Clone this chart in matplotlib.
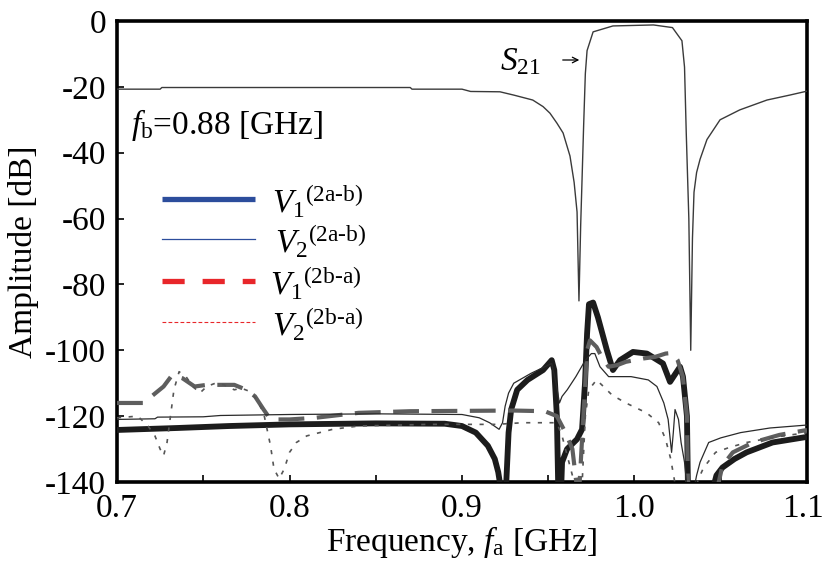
import matplotlib
matplotlib.use("Agg")
import matplotlib.pyplot as plt
from matplotlib.lines import Line2D
from matplotlib.ticker import MultipleLocator, FormatStrFormatter
from matplotlib.transforms import ScaledTranslation

plt.rcParams['font.family'] = ['Liberation Serif', 'DejaVu Serif']
plt.rcParams['mathtext.fontset'] = 'custom'
plt.rcParams['mathtext.rm'] = 'Liberation Serif'
plt.rcParams['mathtext.it'] = 'Liberation Serif:italic'
plt.rcParams['axes.unicode_minus'] = False

# ---- transmission S21 of the filter ----
s21_f = [0.700, 0.725, 0.726, 0.870, 0.871, 0.900, 0.905, 0.922, 0.930, 0.941,
         0.947, 0.951, 0.955, 0.9586, 0.9626, 0.965, 0.9667, 0.9678, 0.9688,
         0.9696, 0.9705, 0.9715, 0.9725, 0.976, 0.9875, 1.011, 1.022, 1.0275,
         1.029, 1.030, 1.0315, 1.0326, 1.0336, 1.0345, 1.036, 1.038, 1.042,
         1.0496, 1.061, 1.0768, 1.090, 1.100]
s21_db = [-20.7, -20.7, -20.2, -20.2, -20.7, -20.7, -21.4, -21.5, -22.5, -24.0,
          -26.0, -28.0, -31.0, -34.0, -41.0, -49.0, -58.0, -85.0, -62.0,
          -48.0, -32.0, -16.0, -9.0, -3.3, -1.5, -1.2, -2.0, -6.0,
          -14.0, -34.0, -60.0, -100.0, -66.0, -52.0, -46.0, -42.0, -36.0,
          -30.0, -27.0, -24.0, -22.5, -21.3]

# ---- V1 (2a-b) ----
v1ab_f = [0.700, 0.735, 0.765, 0.800, 0.850, 0.890, 0.900, 0.908, 0.915, 0.919,
          0.921, 0.9225, 0.9255, 0.927, 0.9285, 0.932, 0.938, 0.947, 0.952,
          0.9535, 0.955, 0.9558, 0.9575, 0.958, 0.9609, 0.9667, 0.9696, 0.9713,
          0.9725, 0.9736, 0.976, 0.9788, 0.984, 0.9875, 0.9916, 0.9991, 1.0072,
          1.0165, 1.0206, 1.0264, 1.0281, 1.0304, 1.031, 1.0455, 1.0475, 1.051,
          1.058, 1.065, 1.080, 1.100]
v1ab_db = [-124.2, -123.6, -123.0, -122.5, -122.2, -122.3, -123.0, -125.0, -129.0, -133.0,
           -137.0, -142.0, -142.0, -125.0, -118.0, -112.0, -109.0, -106.0, -103.0,
           -106.0, -120.0, -142.0, -142.0, -134.0, -130.0, -127.0, -124.0, -110.0,
           -95.0, -86.0, -85.5, -90.0, -100.0, -106.0, -103.0, -100.5, -101.0,
           -104.0, -109.6, -105.0, -108.0, -120.0, -142.0, -142.0, -138.0, -135.6,
           -133.0, -131.0, -128.0, -126.3]

# ---- V2 (2a-b) ----
v2ab_f = [0.700, 0.722, 0.7235, 0.750, 0.760, 0.800, 0.850, 0.900, 0.910, 0.916,
          0.9215, 0.9235, 0.925, 0.927, 0.930, 0.940, 0.952, 0.9545, 0.9565,
          0.958, 0.961, 0.966, 0.9715, 0.975, 0.977, 0.980, 0.985, 0.998,
          1.008, 1.013, 1.017, 1.0195, 1.0215, 1.0225, 1.0235, 1.0255, 1.027,
          1.029, 1.0305, 1.0345, 1.036, 1.038, 1.043, 1.050, 1.0615, 1.0785, 1.100]
v2ab_db = [-121.0, -120.8, -120.3, -120.2, -119.8, -119.5, -119.3, -119.5, -120.5, -122.0,
           -124.0, -122.0, -117.0, -113.0, -110.0, -107.0, -104.0, -110.0, -116.0,
           -114.0, -112.0, -108.0, -103.0, -101.0, -101.0, -105.0, -108.0, -108.0,
           -109.0, -111.0, -116.0, -121.0, -131.0, -125.0, -118.0, -121.0, -128.0,
           -134.0, -142.0, -142.0, -138.0, -134.0, -128.0, -126.6, -125.0, -123.6, -122.7]

# ---- V1 (2b-a) ----
v1ba_f = [0.700, 0.715, 0.720, 0.727, 0.732, 0.738, 0.745, 0.752, 0.760, 0.768,
          0.775, 0.780, 0.785, 0.789, 0.800, 0.815, 0.840, 0.870, 0.930, 0.948,
          0.955, 0.960, 0.964, 0.9667, 0.9680, 0.9696, 0.9713, 0.9725, 0.9742,
          0.978, 0.981, 0.985, 0.990, 0.995, 1.000, 1.005, 1.012, 1.018, 1.022,
          1.025, 1.028, 1.0304, 1.031, 1.048, 1.051, 1.057, 1.0687, 1.084, 1.100]
v1ba_db = [-116.0, -116.0, -114.0, -111.0, -107.5, -108.5, -111.0, -110.5, -110.5, -110.5,
           -112.0, -114.0, -118.0, -121.0, -121.0, -120.5, -119.0, -118.5, -118.3, -118.5,
           -120.0, -125.0, -130.0, -142.0, -142.0, -127.0, -112.0, -100.0, -97.0,
           -99.0, -102.0, -105.0, -104.5, -103.5, -103.0, -102.5, -102.0, -101.0, -100.8,
           -103.0, -108.0, -120.0, -142.0, -142.0, -135.0, -131.0, -128.0, -125.7, -124.2]

# ---- V2 (2b-a) ----
v2ba_f = [0.700, 0.712, 0.718, 0.722, 0.725, 0.727, 0.729, 0.731, 0.733, 0.736,
          0.740, 0.744, 0.748, 0.752, 0.757, 0.762, 0.768, 0.772, 0.777, 0.781,
          0.785, 0.787, 0.789, 0.791, 0.794, 0.797, 0.800, 0.804, 0.810, 0.825,
          0.840, 0.880, 0.920, 0.935, 0.955, 0.958, 0.962, 0.966, 0.9695, 0.9715,
          0.9735, 0.978, 0.982, 0.987, 0.995, 1.001, 1.007, 1.014, 1.018, 1.021,
          1.024, 1.035, 1.038, 1.040, 1.047, 1.055, 1.065, 1.080, 1.100]
v2ba_db = [-120.5, -120.0, -123.0, -126.0, -130.0, -132.0, -128.0, -120.0, -112.0, -106.5,
           -108.0, -111.0, -113.0, -111.0, -110.0, -110.5, -112.0, -111.5, -112.5, -115.0,
           -119.0, -124.0, -129.0, -136.0, -139.0, -136.0, -131.0, -128.0, -126.0, -124.0,
           -123.0, -122.5, -122.5, -122.0, -122.0, -126.0, -134.0, -142.0, -142.0, -120.0,
           -112.0, -109.0, -111.0, -113.6, -116.0, -117.5, -119.0, -122.0, -127.0, -133.0,
           -142.0, -142.0, -138.0, -135.7, -131.0, -129.5, -128.0, -126.5, -125.0]

x_ticks = [0.7, 0.8, 0.9, 1.0, 1.1]
y_ticks = [0, -20, -40, -60, -80, -100, -120, -140]

FS = 24

fig = plt.figure(figsize=(8.25, 5.64), dpi=100)
ax = fig.add_axes([117 / 825, 1 - 482 / 564, 690 / 825, 461 / 564])

# measured responses (drawn in grey scale)
ax.plot(v1ab_f, v1ab_db, color='#1c1c1c', lw=4.2, solid_capstyle='butt', zorder=3)
ax.plot(v1ba_f, v1ba_db, color='#5e5e5e', lw=3.0, dashes=(6.2, 3.0), zorder=4)
ax.plot(v2ab_f, v2ab_db, color='#2a2a2a', lw=0.9, zorder=5)
ax.plot(v2ba_f, v2ba_db, color='#555555', lw=1.2, dashes=(2.5, 4.5), zorder=5)
ax.plot(s21_f, s21_db, color='#3a3a3a', lw=1.0, zorder=5)

ax.set_xlim(0.7, 1.1)
ax.set_ylim(-140, 0)
ax.set_xticks(x_ticks)
ax.xaxis.set_minor_locator(MultipleLocator(0.05))
ax.set_yticks(y_ticks)
ax.xaxis.set_major_formatter(FormatStrFormatter('%.1f'))
ax.yaxis.set_major_formatter(FormatStrFormatter('%d'))
ax.tick_params(axis='both', which='both', direction='in', labelsize=FS,
               top=False, right=False, pad=8, width=1.2)
ax.tick_params(axis='both', which='major', length=5)
ax.tick_params(axis='x', which='minor', length=5)
for sp in ax.spines.values():
    sp.set_linewidth(2.6)

# keep the last x tick label inside the figure
last = ax.get_xticklabels()[-1]
last.set_transform(last.get_transform() + ScaledTranslation(-3 / 72, 0, fig.dpi_scale_trans))

ax.set_xlabel(r'Frequency, $f_{\rm a}$ [GHz]', fontsize=FS, labelpad=0)
ax.set_ylabel('Amplitude [dB]', fontsize=FS, labelpad=4)

# annotations
ax.text(0.020, 0.755, r'$f_{\rm b}$=0.88 [GHz]', transform=ax.transAxes,
        fontsize=FS, va='baseline', ha='left')
ax.text(0.555, 0.894, r'$S_{21}$', transform=ax.transAxes,
        fontsize=FS, va='baseline', ha='left')
ax.annotate('', xy=(0.670, 0.9154), xytext=(0.646, 0.9154),
            xycoords='axes fraction',
            arrowprops=dict(arrowstyle='->', lw=0.9, color='black',
                            shrinkA=0, shrinkB=0))

# legend keys
sup_ab = r'{}^{\mathrm{(2a}\text{-}\mathrm{b)}}'
sup_ba = r'{}^{\mathrm{(2b}\text{-}\mathrm{a)}}'
legend_rows = [
    (dict(color='#2c4d9c', lw=3.8, solid_capstyle='butt'), r'$V_1' + sup_ab + '$', 0.6143, 0.2246),
    (dict(color='#2c4d9c', lw=0.9), r'$V_2' + sup_ab + '$', 0.5271, 0.2290),
    (dict(color='#e8262a', lw=3.8, dashes=(4.2, 3.4)), r'$V_1' + sup_ba + '$', 0.4360, 0.2217),
    (dict(color='#e8262a', lw=0.8, dashes=(3.4, 2.0)), r'$V_2' + sup_ba + '$', 0.3470, 0.2246),
]
for style, label, ya, xt in legend_rows:
    ax.add_line(Line2D([0.0652, 0.2], [ya, ya], transform=ax.transAxes, zorder=6, **style))
    ax.text(xt, ya - 0.031, label, transform=ax.transAxes, fontsize=FS,
            va='baseline', ha='left', zorder=6)

fig.savefig('out.png', dpi=100)
